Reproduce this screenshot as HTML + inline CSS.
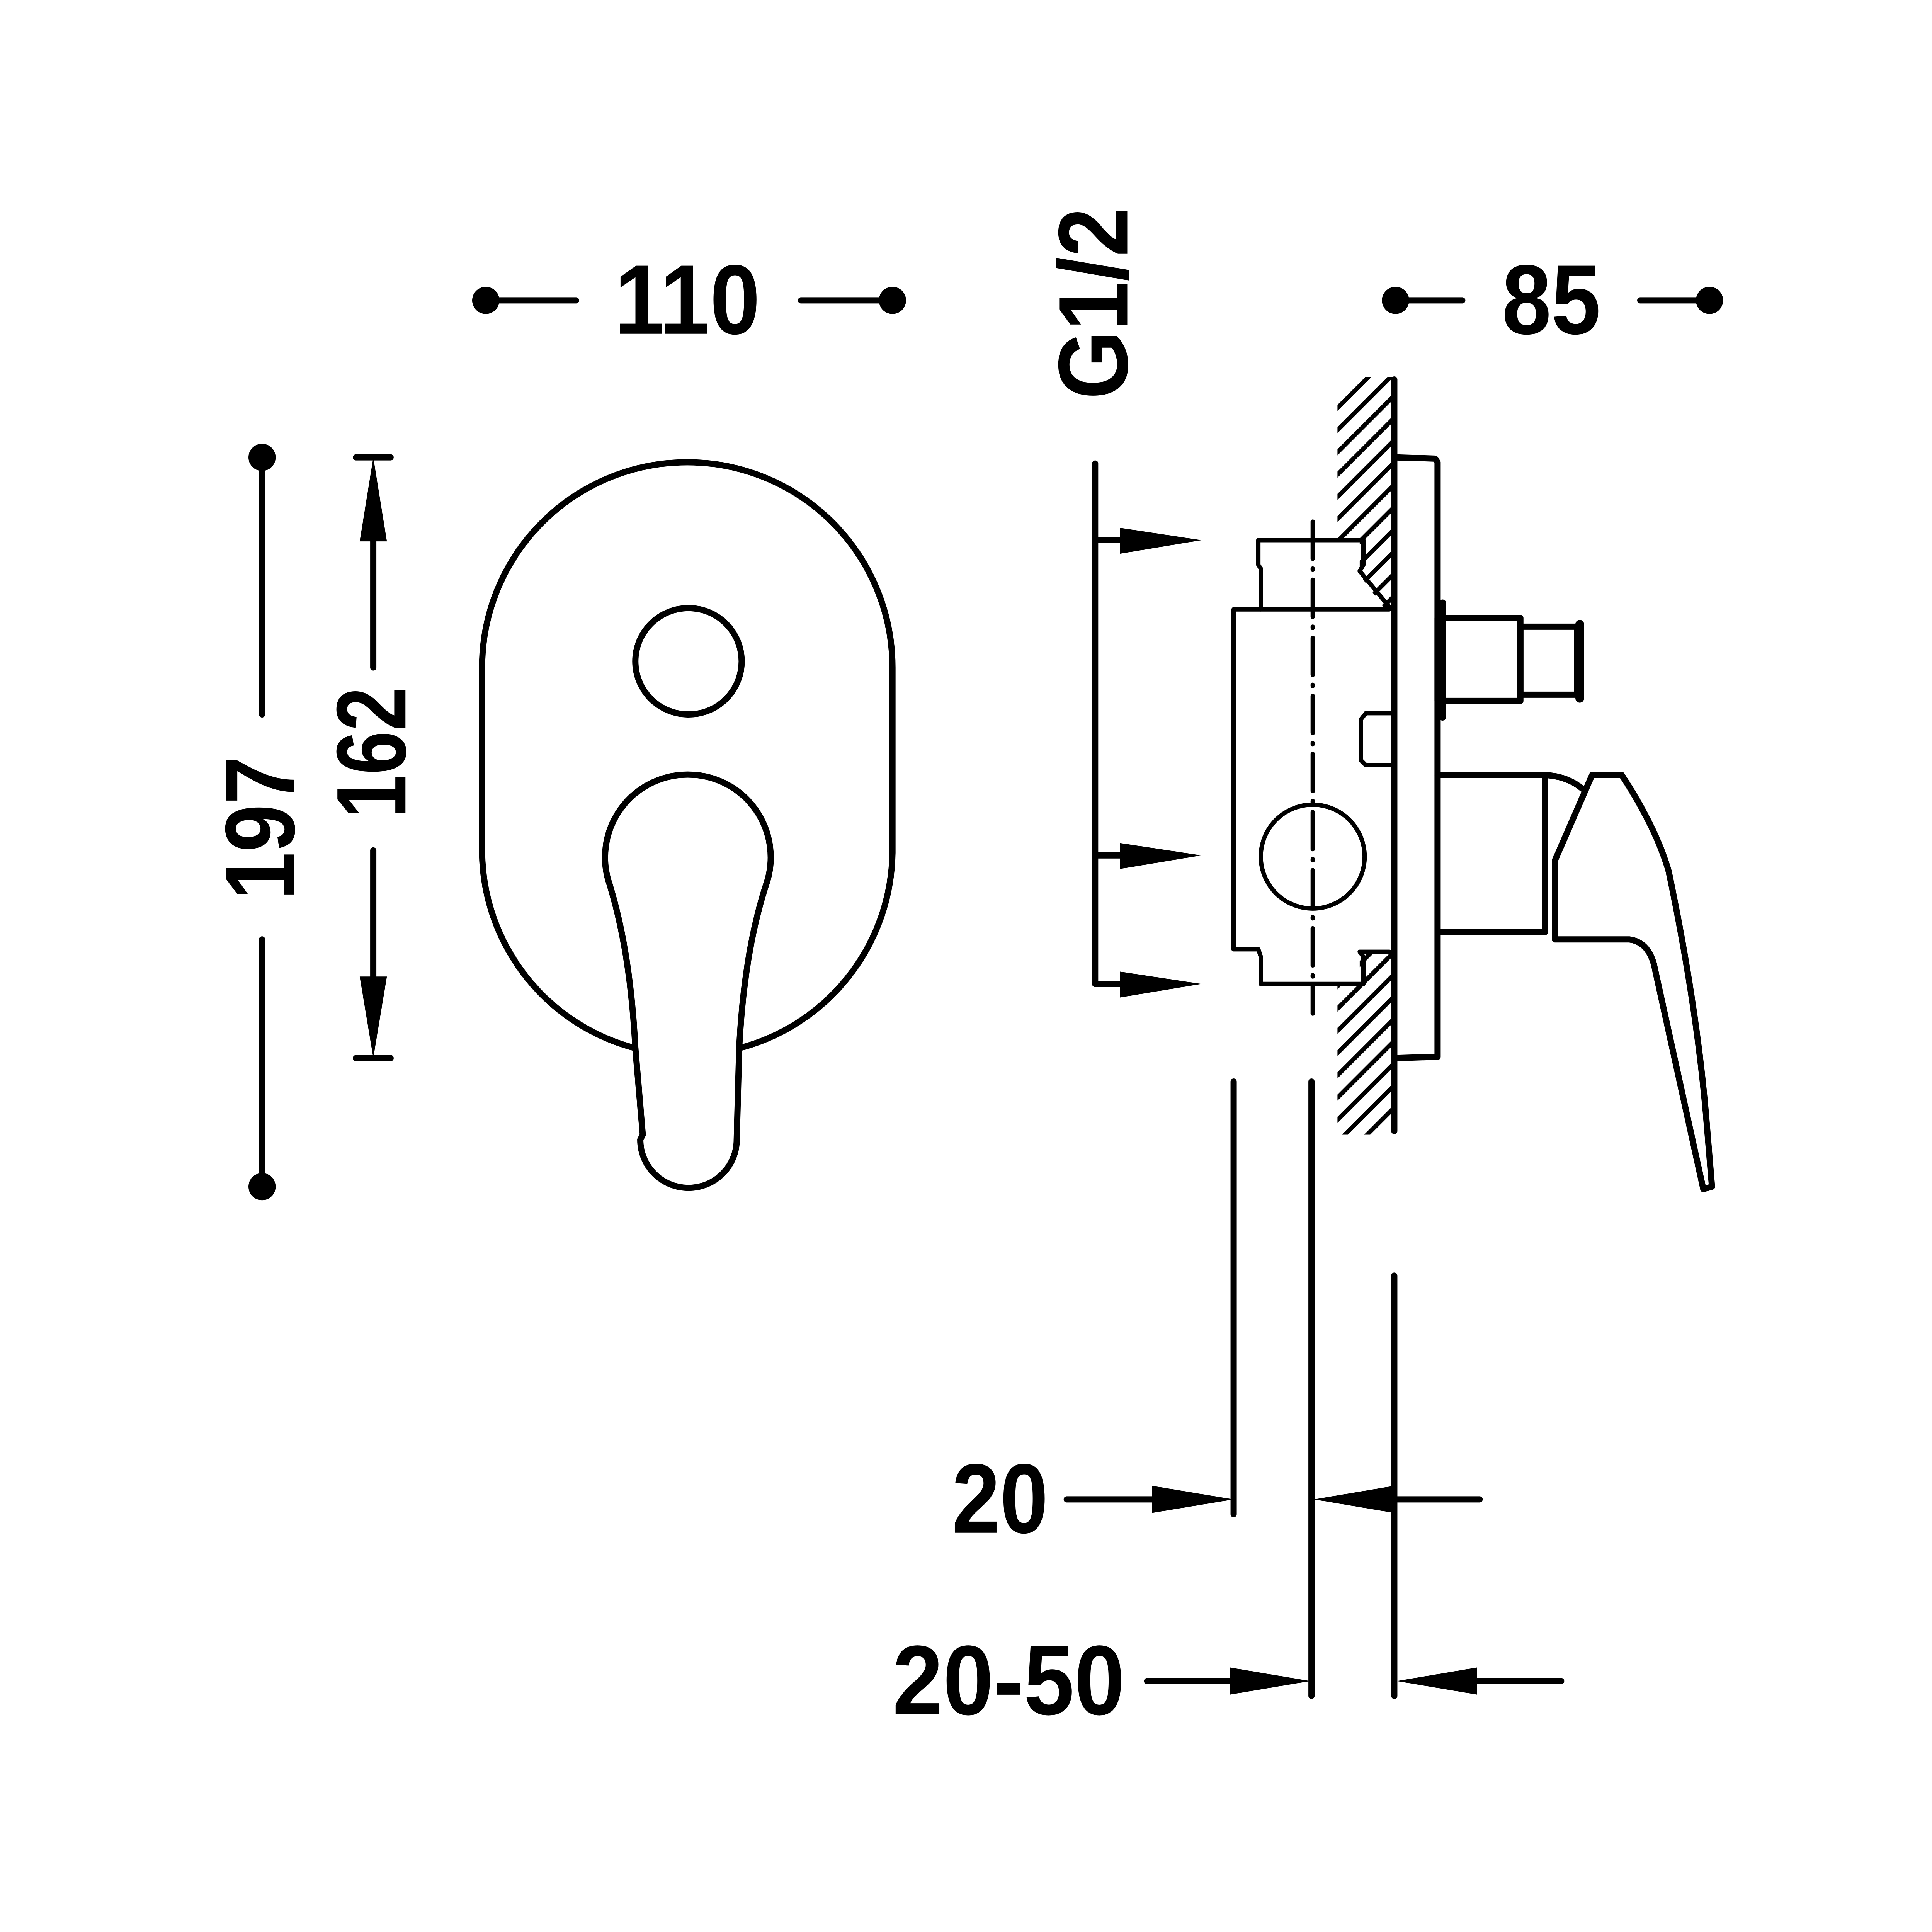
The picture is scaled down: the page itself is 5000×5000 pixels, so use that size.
<!DOCTYPE html>
<html><head><style>html,body{margin:0;padding:0;background:#fff}svg{display:block}</style></head><body>
<svg xmlns="http://www.w3.org/2000/svg" width="5000" height="5000" viewBox="0 0 1563 1563">
<defs>
<clipPath id="hu"><polygon points="1082,305 1128,305 1128,495 1122,495 1100,465 1100,437 1082,437"/></clipPath>
<clipPath id="hl"><polygon points="1082,770 1100,770 1100,796 1082,796 1082,918 1128,918 1128,770"/></clipPath>
</defs>
<g fill="none" stroke="#000" stroke-width="5" stroke-linecap="round" stroke-linejoin="round">
<line x1="393" y1="243" x2="466" y2="243"/><line x1="648" y1="243" x2="722" y2="243"/>
<line x1="1129" y1="243" x2="1183" y2="243"/><line x1="1327" y1="243" x2="1383" y2="243"/>
<line x1="212" y1="370" x2="212" y2="578"/><line x1="212" y1="760" x2="212" y2="960"/>
<line x1="288" y1="370" x2="316" y2="370"/><line x1="288" y1="856" x2="316" y2="856"/>
<line x1="302" y1="438" x2="302" y2="540"/><line x1="302" y1="688" x2="302" y2="790"/>
<path d="M514,848 A166,166 0 0 1 390,690 L390,540 A166,166 0 0 1 722,540 L722,690 A166,166 0 0 1 598,848"/>
<circle cx="557" cy="535" r="43"/>
<path d="M520,918 L514,848 Q510,770 493,715 A67,67 0 1 1 620,715 Q602,770 598,848 L596,922 A39,39 0 0 1 518,922 Z"/>
<line x1="886" y1="375" x2="886" y2="796"/>
<line x1="886" y1="437" x2="906" y2="437"/><line x1="886" y1="692" x2="906" y2="692"/><line x1="886" y1="796" x2="906" y2="796"/>
<line x1="1128" y1="307" x2="1128" y2="915"/>
<g clip-path="url(#hu)" stroke-width="3.5">
<line x1="1062" y1="350" x2="1130" y2="282"/><line x1="1062" y1="368" x2="1130" y2="300"/><line x1="1062" y1="386" x2="1130" y2="318"/><line x1="1062" y1="404" x2="1130" y2="336"/><line x1="1062" y1="422" x2="1130" y2="354"/><line x1="1062" y1="440" x2="1130" y2="372"/><line x1="1062" y1="458" x2="1130" y2="390"/><line x1="1062" y1="476" x2="1130" y2="408"/><line x1="1062" y1="494" x2="1130" y2="426"/><line x1="1062" y1="512" x2="1130" y2="444"/><line x1="1062" y1="530" x2="1130" y2="462"/><line x1="1062" y1="548" x2="1130" y2="480"/>
</g>
<g clip-path="url(#hl)" stroke-width="3.5">
<line x1="1062" y1="800" x2="1130" y2="732"/><line x1="1062" y1="818" x2="1130" y2="750"/><line x1="1062" y1="836" x2="1130" y2="768"/><line x1="1062" y1="854" x2="1130" y2="786"/><line x1="1062" y1="872" x2="1130" y2="804"/><line x1="1062" y1="890" x2="1130" y2="822"/><line x1="1062" y1="908" x2="1130" y2="840"/><line x1="1062" y1="926" x2="1130" y2="858"/><line x1="1062" y1="944" x2="1130" y2="876"/><line x1="1062" y1="962" x2="1130" y2="894"/>
</g>
<path d="M1020,493 L1020,460 L1018,457 L1018,437 L1103,437 L1103,457 L1100,462 L1124,491" stroke-width="3.5"/>
<path d="M1124,493 L998,493 L998,768 L1018,768 L1020,774 L1020,796 L1103,796 L1103,774 L1100,770 L1124,770" stroke-width="3.5"/>
<path d="M1125,577 L1105,577 L1101,582 L1101,615 L1105,619 L1125,619" stroke-width="3.5"/>
<circle cx="1062" cy="693" r="42" stroke-width="3.5"/>
<line x1="1062" y1="422" x2="1062" y2="820" stroke-width="3.5" stroke-dasharray="30,8,1,8"/>
<path d="M1128,370 L1161,371 L1163,374 L1163,855 L1128,856"/>
<rect x="1163" y="500" width="67" height="67"/>
<rect x="1230" y="507" width="46" height="55"/>
<line x1="1278" y1="505" x2="1278" y2="565" stroke-width="7"/>
<line x1="1167" y1="488" x2="1167" y2="580" stroke-width="6"/>
<path d="M1163,627 L1250,627 L1250,754 L1163,754"/>
<path d="M1250,627 Q1268,628 1280,638"/>
<path d="M1288,627 L1312,627 Q1340,670 1350,705 Q1372,810 1380,900 L1385,960 L1378,962 L1338,780 Q1333,762 1318,760 L1258,760 L1258,696 Z"/>
<line x1="998" y1="875" x2="998" y2="1225"/>
<line x1="1061" y1="875" x2="1061" y2="1372"/>
<line x1="1128" y1="1032" x2="1128" y2="1372"/>
<line x1="863" y1="1213" x2="932" y2="1213"/><line x1="1128" y1="1213" x2="1197" y2="1213"/>
<line x1="928" y1="1360" x2="995" y2="1360"/><line x1="1195" y1="1360" x2="1263" y2="1360"/>
</g>
<g fill="#000">
<circle cx="393" cy="243" r="11"/><circle cx="722" cy="243" r="11"/>
<circle cx="1129" cy="243" r="11"/><circle cx="1383" cy="243" r="11"/>
<circle cx="212" cy="370" r="11"/><circle cx="212" cy="960" r="11"/>
<polygon points="302,370 291,438 313,438"/><polygon points="302,856 291,790 313,790"/>
<polygon points="972,437 906,427 906,448"/><polygon points="972,692 906,682 906,703"/><polygon points="972,796 906,786 906,807"/>
<polygon points="998,1213 932,1202 932,1224"/><polygon points="1063,1213 1128,1202 1128,1224"/>
<polygon points="1060,1360 995,1349 995,1371"/><polygon points="1130,1360 1195,1349 1195,1371"/>
</g>
<g font-family="Liberation Sans, Arial, sans-serif" font-weight="bold" font-size="80" fill="#000">
<text x="497" y="270" textLength="118" lengthAdjust="spacingAndGlyphs">110</text>
<text x="1215" y="270" textLength="80" lengthAdjust="spacingAndGlyphs">85</text>
<text transform="translate(238,728) rotate(-90)" textLength="116" lengthAdjust="spacingAndGlyphs">197</text>
<text transform="translate(328,662) rotate(-90)" textLength="106" lengthAdjust="spacingAndGlyphs">162</text>
<text transform="translate(912,323) rotate(-90)" textLength="155" lengthAdjust="spacingAndGlyphs">G1/2</text>
<text x="770" y="1240" textLength="78" lengthAdjust="spacingAndGlyphs">20</text>
<text x="722" y="1387" textLength="188" lengthAdjust="spacingAndGlyphs">20-50</text>
</g>
</svg>
</body></html>
